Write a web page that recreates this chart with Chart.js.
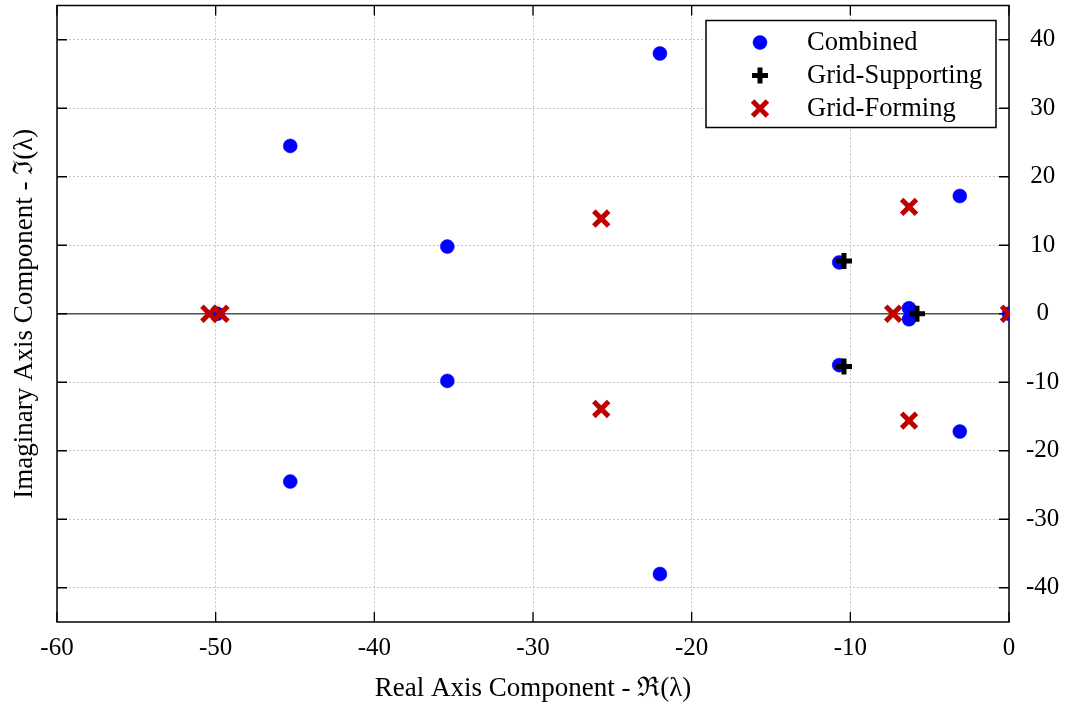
<!DOCTYPE html>
<html>
<head>
<meta charset="utf-8">
<script src="https://cdn.jsdelivr.net/npm/chart.js@4/dist/chart.umd.min.js"></script>
<style>
html,body{margin:0;padding:0;background:#fff;overflow:hidden;}
#wrap{width:1065px;height:705px;position:relative;overflow:hidden;}
#c{position:absolute;left:0;top:-10px;}
</style>
</head>
<body>
<div id="wrap"><canvas id="c" width="1065" height="715"></canvas></div>
<script>
// ---- data ----
const combinedRe = [-22.0, -22.0, -45.3, -45.3, -35.4, -35.4, -10.7, -10.7, -3.1, -3.1, -6.3, -6.3, -49.9, 0];
const combinedIm = [38.0, -38.0, 24.5, -24.5, 9.8, -9.8, 7.5, -7.5, 17.2, -17.2, 0.8, -0.8, 0, 0];
const supportRe = [-10.4, -10.4, -5.8];
const supportIm = [7.7, -7.7, 0];
const formingRe = [-25.7, -25.7, -6.3, -6.3, -7.3, -50.4, -49.7, 0];
const formingIm = [13.9, -13.9, 15.6, -15.6, 0, 0, 0, 0];
const xTicks = [-60, -50, -40, -30, -20, -10, 0];
const yTicks = [-40, -30, -20, -10, 0, 10, 20, 30, 40];
const seriesNames = ['Combined', 'Grid-Supporting', 'Grid-Forming'];
const xTitle = 'Real Axis Component - \u211C(\u03BB)';
const yTitle = 'Imaginary Axis Component - \u2111(\u03BB)';

const FONT = "'Liberation Serif','DejaVu Serif','Times New Roman',serif";
const toPts = (re, im) => re.map((v, i) => ({x: v, y: im[i]}));

const BLUE = '#0000ff', BLACK = '#000000', RED = '#bf0000';

const zeroPad = s => { s.paddingLeft = 0; s.paddingRight = 0; s.paddingTop = 0; s.paddingBottom = 0; };

const framePlugin = {
  id: 'frame',
  beforeDatasetsDraw(chart) {
    const {ctx, chartArea: a, scales} = chart;
    const y = scales.y, x = scales.x;
    ctx.save();
    // zero line
    const y0 = y.getPixelForValue(0);
    ctx.strokeStyle = '#505050';
    ctx.lineWidth = 1.6;
    ctx.beginPath(); ctx.moveTo(a.left, y0); ctx.lineTo(a.right, y0); ctx.stroke();
    // inward ticks
    ctx.strokeStyle = '#000';
    ctx.lineWidth = 1.3;
    const tl = 10;
    ctx.beginPath();
    xTicks.forEach(v => {
      const px = x.getPixelForValue(v);
      ctx.moveTo(px, a.bottom); ctx.lineTo(px, a.bottom - tl);
      ctx.moveTo(px, a.top); ctx.lineTo(px, a.top + tl);
    });
    yTicks.forEach(v => {
      const py = y.getPixelForValue(v);
      ctx.moveTo(a.left, py); ctx.lineTo(a.left + tl, py);
      ctx.moveTo(a.right, py); ctx.lineTo(a.right - tl, py);
    });
    ctx.stroke();
    // frame
    ctx.lineWidth = 1.5;
    ctx.strokeRect(a.left, a.top, a.right - a.left, a.bottom - a.top);
    ctx.restore();
  },
  afterDatasetsDraw(chart) {
    const {ctx, chartArea: a} = chart;
    ctx.save();
    const bx = a.right - 303, by = a.top + 15, bw = 290, bh = 107;
    ctx.fillStyle = '#fff';
    ctx.fillRect(bx, by, bw, bh);
    ctx.strokeStyle = '#000';
    ctx.lineWidth = 1.5;
    ctx.strokeRect(bx, by, bw, bh);
    ctx.font = "26.5px " + FONT;
    ctx.textBaseline = 'middle';
    ctx.textAlign = 'left';
    ctx.fillStyle = '#000';
    chart.data.datasets.forEach((ds, i) => {
      const ry = by + 22 + i * 33;
      const mx = bx + 54;
      const opts = {pointStyle: ds.pointStyle, radius: ds.pointRadius, rotation: 0, borderWidth: ds.borderWidth};
      ctx.fillStyle = ds.backgroundColor;
      ctx.strokeStyle = ds.borderColor;
      ctx.lineWidth = ds.borderWidth;
      Chart.helpers.drawPoint(ctx, opts, mx, ry);
      ctx.fillStyle = '#000';
      ctx.fillText(ds.label, bx + 101, ry + 1);
    });
    ctx.restore();
  }
};

new Chart(document.getElementById('c'), {
  type: 'scatter',
  data: {
    datasets: [
      {label: seriesNames[0], data: toPts(combinedRe, combinedIm), pointStyle: 'circle', pointRadius: 7,
       backgroundColor: BLUE, borderColor: BLUE, borderWidth: 0.5, order: 3},
      {label: seriesNames[1], data: toPts(supportRe, supportIm), pointStyle: 'cross', pointRadius: 8,
       backgroundColor: BLACK, borderColor: BLACK, borderWidth: 5, order: 2},
      {label: seriesNames[2], data: toPts(formingRe, formingIm), pointStyle: 'crossRot', pointRadius: 10.5,
       backgroundColor: RED, borderColor: RED, borderWidth: 5, order: 1}
    ]
  },
  options: {
    responsive: false,
    animation: false,
    layout: {padding: {left: 0, right: 0, top: 5, bottom: 0}},
    plugins: {legend: {display: false}, tooltip: {enabled: false}},
    elements: {point: {hoverRadius: 0}},
    scales: {
      x: {
        type: 'linear', position: 'bottom', min: -60, max: 0,
        afterBuildTicks: s => { s.ticks = xTicks.map(v => ({value: v})); },
        afterFit: s => { s.height = 83; zeroPad(s); },
        ticks: {font: {family: FONT, size: 25}, color: '#000', padding: 11, maxRotation: 0},
        grid: {color: '#c4c4c4', lineWidth: 1, drawTicks: false},
        border: {display: false, dash: [2, 2]},
        title: {display: true, text: xTitle, font: {family: FONT, size: 27}, color: '#000', padding: {top: 0, bottom: 0}}
      },
      y: {
        type: 'linear', position: 'right', min: -45, max: 45,
        afterBuildTicks: s => { s.ticks = yTicks.map(v => ({value: v})); },
        afterFit: s => { s.width = 56; zeroPad(s); },
        ticks: {font: {family: FONT, size: 25}, color: '#000', padding: 17, crossAlign: 'center'},
        grid: {color: '#c4c4c4', lineWidth: 1, drawTicks: false},
        border: {display: false, dash: [2, 2]}
      },
      yL: {
        type: 'linear', position: 'left', axis: 'y', min: -45, max: 45,
        afterFit: s => { s.width = 57; zeroPad(s); },
        ticks: {display: false},
        grid: {display: false},
        border: {display: false},
        title: {display: true, text: yTitle, font: {family: FONT, size: 27}, color: '#000', padding: {top: 9, bottom: 0}}
      }
    }
  },
  plugins: [framePlugin]
});
</script>
</body>
</html>
